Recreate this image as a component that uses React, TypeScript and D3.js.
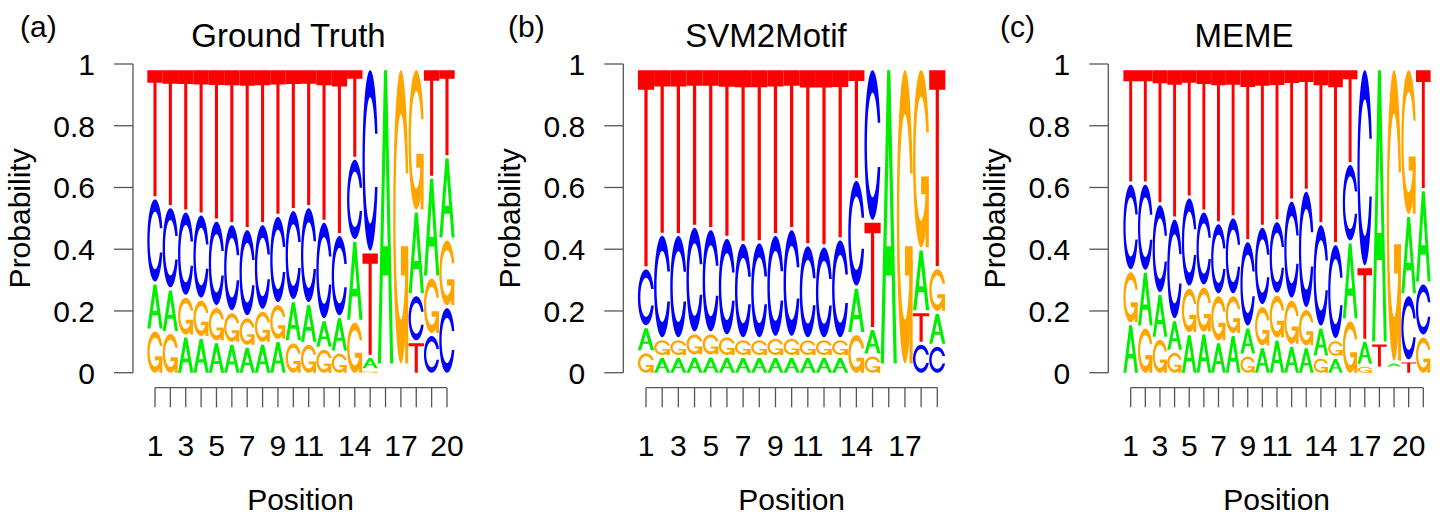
import React from 'react';
import * as d3 from 'd3';

const bases = ['A', 'C', 'G', 'T'];
const baseColors: Record<string, string> = { A: '#00ee00', C: '#0000ff', G: '#ffa500', T: '#ff0000' };

// (a) Ground Truth, probability per position
const gtA = [0.15, 0.138, 0.12, 0.115, 0.1, 0.095, 0.085, 0.095, 0.105, 0.13, 0.125, 0.087, 0.11, 0.265, 0.035, 1, 0, 0.275, 0.33, 0.27];
const gtC = [0.28, 0.27, 0.28, 0.28, 0.284, 0.29, 0.29, 0.285, 0.29, 0.3, 0.32, 0.325, 0.27, 0.27, 0.615, 0, 0, 0.15, 0.125, 0.22];
const gtG = [0.14, 0.132, 0.125, 0.12, 0.11, 0.097, 0.09, 0.102, 0.115, 0.1, 0.095, 0.078, 0.065, 0.17, 0.005, 0, 1, 0.475, 0.185, 0.22];
const gtT = [0.43, 0.46, 0.475, 0.485, 0.506, 0.518, 0.535, 0.518, 0.49, 0.47, 0.46, 0.51, 0.555, 0.295, 0.345, 0, 0, 0.1, 0.36, 0.29];

// (b) SVM2Motif
const svmA = [0.075, 0.05, 0.05, 0.052, 0.052, 0.05, 0.05, 0.05, 0.05, 0.05, 0.05, 0.05, 0.05, 0.148, 0.08, 1, 0, 0.204, 0.102];
const svmC = [0.19, 0.346, 0.345, 0.353, 0.345, 0.325, 0.318, 0.32, 0.34, 0.36, 0.31, 0.306, 0.33, 0.357, 0.51, 0, 0, 0.095, 0.088];
const svmG = [0.066, 0.05, 0.05, 0.068, 0.068, 0.06, 0.05, 0.05, 0.055, 0.055, 0.05, 0.05, 0.05, 0.128, 0.055, 0, 1, 0.604, 0.142];
const svmT = [0.669, 0.554, 0.555, 0.527, 0.535, 0.565, 0.582, 0.58, 0.555, 0.535, 0.59, 0.594, 0.57, 0.367, 0.355, 0, 0, 0.097, 0.668];

// (c) MEME
const memeA = [0.162, 0.18, 0.142, 0.097, 0.128, 0.13, 0.1, 0.125, 0.085, 0.083, 0.11, 0.088, 0.083, 0.092, 0.047, 0.255, 0.075, 0.925, 0.01, 0.26, 0.308];
const memeC = [0.288, 0.29, 0.296, 0.336, 0.297, 0.245, 0.235, 0.255, 0.284, 0.26, 0.24, 0.327, 0.393, 0.342, 0.317, 0.257, 0.665, 0, 0, 0.215, 0.17];
const memeG = [0.17, 0.15, 0.112, 0.068, 0.148, 0.15, 0.15, 0.125, 0.055, 0.13, 0.142, 0.147, 0.12, 0.048, 0.05, 0.175, 0.02, 0, 0.99, 0.49, 0.12];
const memeT = [0.38, 0.38, 0.45, 0.499, 0.427, 0.475, 0.515, 0.495, 0.576, 0.527, 0.508, 0.438, 0.404, 0.518, 0.586, 0.313, 0.24, 0.075, 0, 0.035, 0.402];

const yTicks = [0, 0.2, 0.4, 0.6, 0.8, 1];
const yTickLabels = ['0', '0.2', '0.4', '0.6', '0.8', '1'];
const gtXLabels = [1, 3, 5, 7, 9, 11, 14, 17, 20];
const svmXLabels = [1, 3, 5, 7, 9, 11, 14, 17];
const memeXLabels = [1, 3, 5, 7, 9, 11, 14, 17, 20];

const panels = [
  { tag: '(a)', title: 'Ground Truth', probs: [gtA, gtC, gtG, gtT], xLabels: gtXLabels },
  { tag: '(b)', title: 'SVM2Motif', probs: [svmA, svmC, svmG, svmT], xLabels: svmXLabels },
  { tag: '(c)', title: 'MEME', probs: [memeA, memeC, memeG, memeT], xLabels: memeXLabels },
];

// where each panel sits on the page
const layout = [
  { axisX: 133, tickStart: 155, tickEnd: 447, titleX: 288.5, tagX: 20, ylabX: 30, xlabX: 300.5 },
  { axisX: 623.3, tickStart: 646, tickEnd: 937.3, titleX: 766, tagX: 508, ylabX: 519.5, xlabX: 791.7 },
  { axisX: 1108.3, tickStart: 1130.7, tickEnd: 1423.3, titleX: 1244, tagX: 1000, ylabX: 1004.5, xlabX: 1276.7 },
];

const FONT = '"Liberation Sans", Arial, Helvetica, sans-serif';
const AXIS_COL = '#555';
const y = d3.scaleLinear().domain([0, 1]).range([372.7, 64]);
const xAxisY = 387.7;

// letter outlines in a unit box, y pointing up (same construction as seqLogo)
const seqRange = (a: number, b: number, n: number) => d3.range(n).map(i => a + ((b - a) * i) / (n - 1));

function ringShape(): [number, number][] {
  const ang1 = seqRange(0.3 + Math.PI / 2, Math.PI, 100);
  const ang2 = seqRange(Math.PI, 1.5 * Math.PI, 100);
  const xl1 = ang1.map(a => 0.5 + 0.5 * Math.sin(a));
  const yl1 = ang1.map(a => 0.5 + 0.5 * Math.cos(a));
  const xl2 = ang2.map(a => 0.5 + 0.5 * Math.sin(a));
  const yl2 = ang2.map(a => 0.5 + 0.5 * Math.cos(a));
  const xl = xl1.concat(xl2);
  const yl = yl1.concat(yl2);
  const x = xl.concat([...xl].reverse());
  const yy = yl.concat([...yl].reverse().map(v => 1 - v));

  const top1 = d3.max(yl1) as number;
  const xi1all = ang1.map(a => 0.5 + 0.35 * Math.sin(a));
  const yi1all = ang1.map(a => 0.5 + 0.35 * Math.cos(a));
  const xi1 = xi1all.filter((_, i) => yi1all[i] <= top1);
  const yi1 = yi1all.filter(v => v <= top1);
  yi1[0] = top1;
  const xi2 = ang2.map(a => 0.5 + 0.35 * Math.sin(a));
  const yi2 = ang2.map(a => 0.5 + 0.35 * Math.cos(a));
  const xi = xi1.concat(xi2);
  const yi = yi1.concat(yi2);
  const x1 = xi.concat([...xi].reverse());
  const y1 = yi.concat([...yi].reverse().map(v => 1 - v));

  const xs = x.concat([...x1].reverse());
  const ys = yy.concat([...y1].reverse());
  return xs.map((v, i) => [v, ys[i]] as [number, number]);
}

const ring = ringShape();
const r1 = 0.5 + 0.5 * Math.sin(0.3 + Math.PI / 2);
const gBar: [number, number][] = [[r1, 0.4], [0.5, 0.4], [0.5, 0.3], [r1 - 0.2, 0.3], [r1 - 0.2, 0], [r1, 0], [r1, 0.4]];
const aOuter: [number, number][] = [[0, 0], [4, 10], [6, 10], [10, 0], [8, 0], [6.8, 3], [3.2, 3], [2, 0]].map(p => [p[0] / 10, p[1] / 10] as [number, number]);
const aInner: [number, number][] = [[3.6, 4], [5, 7.5], [6.4, 4]].map(p => [p[0] / 10, p[1] / 10] as [number, number]);
const tShape: [number, number][] = [[0, 10], [10, 10], [10, 9], [6, 9], [6, 0], [4, 0], [4, 9], [0, 9]].map(p => [p[0] / 10, p[1] / 10] as [number, number]);

const glyphs: Record<string, [number, number][][]> = {
  A: [aOuter, aInner],
  C: [ring],
  G: [ring, gBar],
  T: [tShape],
};

const line = d3.line<[number, number]>();

function Logo({ panel, lay }: { panel: typeof panels[0]; lay: typeof layout[0] }) {
  const n = panel.probs[0].length;
  const x = d3.scaleLinear().domain([1, n]).range([lay.tickStart, lay.tickEnd]);
  const w = x(2) - x(1);
  const positions = d3.range(1, n + 1);

  const letters: { key: string; base: string; d: string[] }[] = [];
  positions.forEach((pos, j) => {
    const hts = bases.map((b, k) => ({ base: b, ht: 0.95 * panel.probs[k][j] }));
    const order = [...hts].sort((a, b) => a.ht - b.ht);
    let ypos = 0;
    order.forEach(({ base, ht }) => {
      if (ht > 0) {
        const left = x(pos) - w / 2;
        const polys = glyphs[base].map(poly =>
          (line(poly.map(([ux, uy]) => [left + ux * w, y(ypos + uy * ht)] as [number, number])) || '') + 'Z'
        );
        letters.push({ key: `${pos}-${base}`, base, d: polys });
      }
      ypos += ht + 0.01;
    });
  });

  return (
    <g>
      <text x={lay.tagX} y={37} fontSize={30} fontFamily={FONT}>{panel.tag}</text>
      <text x={lay.titleX} y={46.5} fontSize={33} fontFamily={FONT} textAnchor="middle">{panel.title}</text>

      {letters.map(l =>
        l.base === 'A' ? (
          <path key={l.key} d={l.d.join('')} fill={baseColors.A} fillRule="evenodd" />
        ) : (
          l.d.map((d, i) => <path key={`${l.key}-${i}`} d={d} fill={baseColors[l.base]} />)
        )
      )}

      {/* y axis */}
      <line x1={lay.axisX} x2={lay.axisX} y1={y(0)} y2={y(1)} stroke={AXIS_COL} strokeWidth={1.3} />
      {yTicks.map((t, i) => (
        <g key={t}>
          <line x1={lay.axisX - 19} x2={lay.axisX} y1={y(t)} y2={y(t)} stroke={AXIS_COL} strokeWidth={1.3} />
          <text x={lay.axisX - 38} y={y(t)} dy="0.36em" textAnchor="end" fontSize={30} fontFamily={FONT}>{yTickLabels[i]}</text>
        </g>
      ))}
      <text transform={`translate(${lay.ylabX},${(y(0) + y(1)) / 2}) rotate(-90)`} textAnchor="middle" fontSize={30} fontFamily={FONT}>Probability</text>

      {/* x axis */}
      <line x1={x(1)} x2={x(n)} y1={xAxisY} y2={xAxisY} stroke={AXIS_COL} strokeWidth={1.3} />
      {positions.map(p => (
        <line key={p} x1={x(p)} x2={x(p)} y1={xAxisY} y2={xAxisY + 19.6} stroke={AXIS_COL} strokeWidth={1.3} />
      ))}
      {panel.xLabels.map(p => (
        <text key={p} x={x(p)} y={456} textAnchor="middle" fontSize={30} fontFamily={FONT}>{p}</text>
      ))}
      <text x={lay.xlabX} y={510} textAnchor="middle" fontSize={30} fontFamily={FONT}>Position</text>
    </g>
  );
}

export default function App() {
  return (
    <svg width={1450} height={517} style={{ position: 'absolute', left: 0, top: 0, background: '#fff' }}>
      {panels.map((p, i) => (
        <Logo key={p.tag} panel={p} lay={layout[i]} />
      ))}
    </svg>
  );
}
